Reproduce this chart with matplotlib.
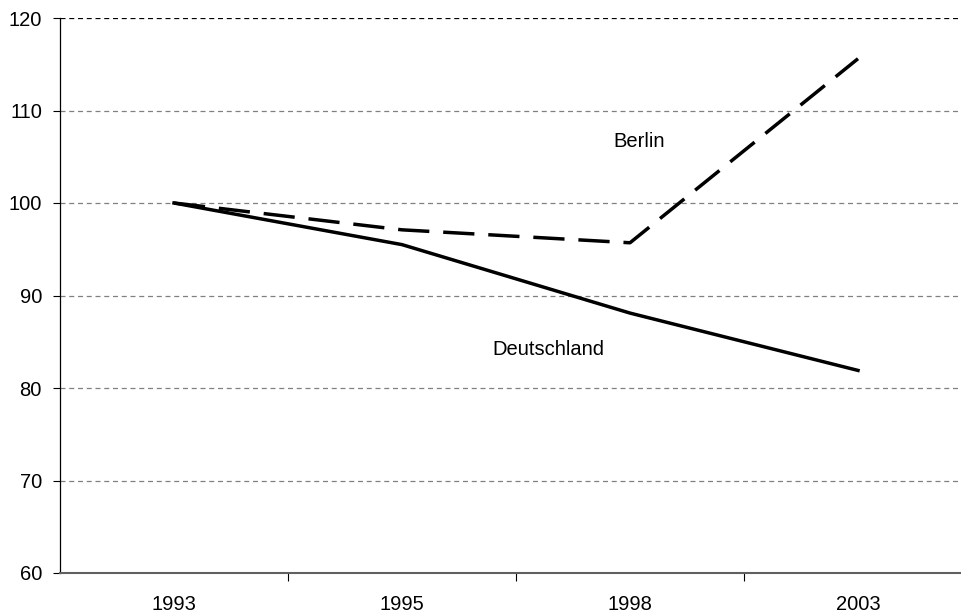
import matplotlib.pyplot as plt

# Data
years = ["1993", "1995", "1998", "2003"]
deutschland = [100.0, 95.5, 88.1, 81.9]
berlin = [100.0, 97.1, 95.7, 115.6]
y_ticks = [60, 70, 80, 90, 100, 110, 120]

plt.rcParams['font.family'] = ['Liberation Sans', 'DejaVu Sans']
fs = 14.5

fig = plt.figure(figsize=(9.62, 6.15), dpi=100)
# plot area runs past the right edge of the picture, as in the reference
ax = fig.add_axes([60 / 962, 42 / 615, 912 / 962, 555 / 615])

x = list(range(len(years)))
for yv in y_ticks[1:]:
    col = 'black' if yv == 120 else '#808080'
    ax.axhline(yv, color=col, linestyle=(0, (4, 3)), linewidth=0.9, zorder=1)

ax.plot(x, deutschland, color='black', linewidth=2.5, solid_joinstyle='miter', zorder=3)
ax.plot(x, berlin, color='black', linewidth=2.5, linestyle=(0, (9, 4)), zorder=3)

ax.text(2.04, 106.7, "Berlin", fontsize=fs, ha='center', va='center')
ax.text(1.64, 84.2, "Deutschland", fontsize=fs, ha='center', va='center')

ax.set_xlim(-0.5, len(years) - 0.5)
ax.set_ylim(60, 120)
ax.set_yticks(y_ticks)
ax.set_yticklabels([str(v) for v in y_ticks], fontsize=fs)

ax.set_xticks([i + 0.5 for i in range(len(years) - 1)])
ax.set_xticklabels([])
ax.set_xticks(x, minor=True)
ax.set_xticklabels(years, minor=True, fontsize=fs)
ax.tick_params(axis='x', which='minor', length=0, pad=16)
ax.tick_params(axis='x', which='major', length=6, width=0.8, direction='out')
ax.tick_params(axis='y', length=5, width=0.8, direction='out', pad=8)

for s in ['top', 'right']:
    ax.spines[s].set_visible(False)
ax.spines['left'].set_linewidth(0.9)
ax.spines['bottom'].set_linewidth(1.5)
ax.spines['bottom'].set_color('#606060')

fig.savefig('out.png', dpi=100)
